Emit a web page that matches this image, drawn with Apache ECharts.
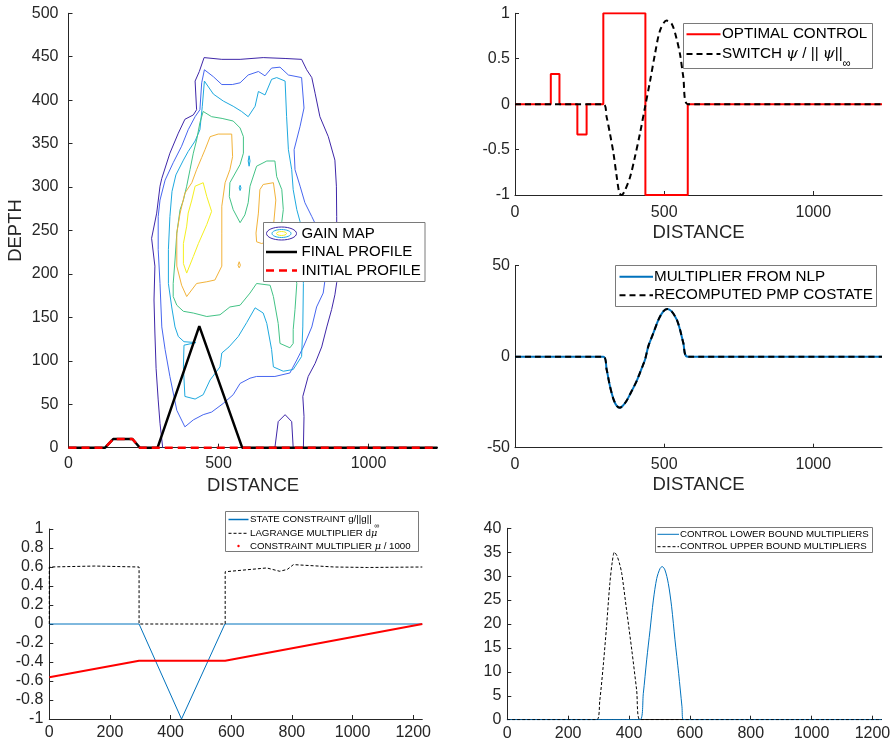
<!DOCTYPE html>
<html>
<head>
<meta charset="utf-8">
<script src="https://cdn.jsdelivr.net/npm/echarts@6/dist/echarts.min.js"></script>
<style>
    html, body { margin: 0; padding: 0; background: #fff; }
    #chart { width: 895px; height: 745px; }
</style>
</head>
<body>
<div id="chart"></div>
<script>
// ---------- data ----------
var topTicks = [0, 500, 1000];
var bottomTicks = [0, 200, 400, 600, 800, 1000, 1200];

// gain map contour lines (distance, depth), outer level first
var gainLevel1 = [[314,0],[305,28],[299,55],[292,91],[288,132],[285,170],[288,209],[277,241],[294,270],[305,301],[311,310],[338,339],[366,362],[388,378],[416,383],[427,389],[422,422],[436,433],[452,449],[511,447],[572,447],[649,449],[722,448],[777,447],[794,435],[811,426],[822,408],[838,381],[866,358],[888,331],[893,301],[894,266],[894,228],[894,190],[888,176],[877,159],[861,139],[844,116],[822,97],[799,82],[781,59],[785,36],[783,0]];
var gainLevel1b = [[688,0],[699,30],[722,38],[744,30],[749,0]];
var gainLevel2 = [[453,435],[483,427],[511,418],[546,418],[572,420],[599,429],[633,433],[655,428],[677,437],[705,438],[733,429],[777,426],[785,391],[772,370],[752,343],[755,320],[772,301],[788,282],[811,266],[832,251],[848,222],[855,193],[849,178],[827,162],[811,139],[783,116],[761,101],[738,86],[688,82],[627,82],[605,80],[572,74],[549,61],[516,51],[477,41],[449,38],[416,32],[388,24],[361,43],[338,82],[322,113],[311,139],[305,189],[299,228],[299,266],[305,285],[322,308],[349,328],[377,347],[399,366],[422,381],[438,389],[444,420],[453,435]];
var gainLevel3 = [[453,422],[483,407],[516,399],[549,393],[577,387],[599,381],[622,393],[633,410],[655,406],[677,424],[694,426],[722,422],[727,381],[733,343],[744,320],[749,297],[761,274],[772,260],[778,228],[783,189],[781,139],[777,105],[749,90],[716,88],[683,93],[677,113],[661,143],[649,155],[622,161],[594,144],[566,128],[535,116],[511,109],[505,93],[472,78],[449,61],[422,56],[388,59],[383,93],[385,118],[425,121],[385,122],[366,128],[355,139],[344,162],[333,189],[333,228],[338,266],[345,295],[358,314],[383,331],[399,341],[422,353],[438,366],[446,393],[453,422]];
var gainLevel3b = [[602,324],[605,330],[602,336],[599,330],[602,324]];
var gainLevel3c = [[572,296],[575,299],[572,302],[569,299],[572,296]];
var gainLevel4 = [[449,387],[477,381],[512,379],[549,376],[572,368],[583,358],[583,339],[572,326],[538,305],[536,289],[549,274],[572,259],[588,268],[599,282],[605,301],[627,324],[661,330],[688,330],[694,312],[711,297],[716,274],[711,260],[738,228],[761,189],[755,159],[749,136],[749,120],[738,115],[705,120],[699,143],[683,174],[672,187],[627,189],[605,178],[572,164],[538,162],[505,153],[461,151],[416,155],[383,157],[361,164],[349,174],[349,189],[355,216],[361,247],[372,274],[383,285],[394,301],[405,320],[416,339],[427,354],[438,374],[449,387]];
var gainLevel5 = [[472,358],[499,361],[544,361],[547,335],[538,320],[522,305],[511,278],[511,247],[511,209],[488,193],[461,191],[427,189],[394,174],[377,187],[361,209],[361,247],[372,270],[388,293],[411,305],[427,320],[444,334],[455,343],[472,358]];
var gainLevel5b = [[649,303],[683,305],[691,285],[685,262],[677,239],[644,235],[627,237],[625,247],[633,270],[638,297],[649,303]];
var gainLevel5c = [[569,207],[573,210],[569,214],[565,210],[569,207]];
var gainLevel6 = [[422,301],[449,305],[461,289],[477,272],[461,257],[433,235],[416,220],[394,201],[383,212],[383,235],[394,255],[399,270],[411,285],[422,301]];

var profileX = [0, 122, 149, 213, 238, 297, 436, 579, 1230];
var finalProfile = [0, 0, 10, 10, 0, 0, 140, 0, 0];
var initialX = [0, 122, 149, 213, 238, 1230];
var initialProfile = [0, 0, 10, 10, 0, 0];

var controlX = [0, 120, 149, 209, 240, 296, 437, 579, 1230];
var optimalControl = [0, 0.333, 0, -0.333, 0, 1, -1, 0, 0];
var switchX = [0, 296, 307, 318, 330, 341, 350, 358, 369, 386, 402, 419, 436, 453, 469, 486, 508, 525, 540, 553, 564, 579, 1230];
var switchFn = [0, 0, -0.14, -0.32, -0.54, -0.80, -0.98, -1.0, -0.945, -0.80, -0.58, -0.32, -0.03, 0.26, 0.55, 0.81, 0.92, 0.886, 0.74, 0.55, 0.30, 0, 0];

var costateX = [0, 296, 307, 318, 330, 341, 352, 363, 374, 386, 397, 408, 419, 428, 436, 447, 464, 481, 497, 510, 525, 542, 553, 564, 579, 1230];
var nlpMultiplier = [0, 0, -6.9, -16, -23.3, -27, -28, -26.6, -24.2, -20.5, -17, -13.3, -8.7, -5, -1.5, 5.8, 13.1, 20.4, 24.9, 26.2, 24.9, 20.4, 14.9, 7.6, 0, 0];
var pmpCostate = [0, 0, -6.9, -16, -23.3, -27, -28, -26.6, -24.2, -20.5, -17, -13.3, -8.7, -5, -1.5, 5.8, 13.1, 20.4, 24.9, 26.2, 24.9, 20.4, 14.9, 7.6, 0, 0];

var stateX = [0, 296, 436, 579, 1230];
var stateConstraint = [0, 0, -1, 0, 0];
var lagrangeX = [0, 0, 150, 296, 296, 580, 580, 717, 760, 785, 805, 860, 940, 1050, 1230];
var lagrangeMult = [0, 0.6, 0.61, 0.6, 0, 0, 0.55, 0.59, 0.555, 0.575, 0.625, 0.615, 0.6, 0.595, 0.6];
var muX = [0, 296, 580, 1230];
var constraintMult = [-0.56, -0.386, -0.386, 0];

var lowerX = [0, 436, 447, 458, 469, 480, 491, 502, 509, 518, 529, 540, 551, 563, 574, 578, 1230];
var lowerMult = [0, 0, 5.5, 12.5, 18.7, 25, 29.5, 31.6, 32, 31.3, 28.5, 23.6, 16.7, 9.7, 2.7, 0, 0];
var upperX = [0, 294, 304, 315, 326, 337, 345, 352, 360, 368, 376, 392, 409, 425, 436, 1230];
var upperMult = [0, 0, 4.1, 11.1, 19.4, 28.5, 33, 35, 34.3, 32.8, 30.6, 22.9, 14.6, 6.2, 0, 0];

// ---------- styling ----------
var FONT = '"Liberation Sans", Arial, Helvetica, sans-serif';
var AXIS_COLOR = '#262626';
var MBLUE = '#0072BD';
var LEVEL_COLORS = ['#3E26A8', '#4766F0', '#1EA9DF', '#43C386', '#F2B33A', '#F5F020'];

function zip (xs, ys) {
    var out = [];
    for (var i = 0; i < xs.length; i++) {
        out.push([xs[i], ys[i]]);
    }
    return out;
}

function plainNumber (v) {
    return String(Math.round(v * 1000) / 1000);
}

function lineSeries (gi, data, color, width, dash, extra) {
    var s = {
        type: 'line',
        xAxisIndex: gi,
        yAxisIndex: gi,
        data: data,
        symbol: 'none',
        silent: true,
        lineStyle: { color: color, width: width, type: dash || 'solid' }
    };
    for (var k in extra) s[k] = extra[k];
    return s;
}

function makeXAxis (gi, ticks, margin, name) {
    return {
        type: 'value', gridIndex: gi, min: 0, max: 1230,
        axisLine: { show: true, onZero: false, lineStyle: { color: AXIS_COLOR, width: 1 } },
        axisTick: { show: true, inside: true, length: 4, customValues: ticks, lineStyle: { color: AXIS_COLOR } },
        axisLabel: { customValues: ticks, formatter: plainNumber, color: AXIS_COLOR, fontSize: 16, fontFamily: FONT, margin: margin },
        splitLine: { show: false },
        name: name || '',
        nameLocation: 'middle',
        nameGap: 28,
        nameTextStyle: { color: AXIS_COLOR, fontSize: 18.5, fontFamily: FONT }
    };
}

function makeYAxis (gi, min, max, interval, margin, name) {
    return {
        type: 'value', gridIndex: gi, min: min, max: max, interval: interval,
        axisLine: { show: true, onZero: false, lineStyle: { color: AXIS_COLOR, width: 1 } },
        axisTick: { show: true, inside: true, length: 4, lineStyle: { color: AXIS_COLOR } },
        axisLabel: { formatter: plainNumber, color: AXIS_COLOR, fontSize: 16, fontFamily: FONT, margin: margin },
        splitLine: { show: false },
        name: name || '',
        nameLocation: 'middle',
        nameGap: 43,
        nameTextStyle: { color: AXIS_COLOR, fontSize: 18.5, fontFamily: FONT }
    };
}

/**
 * legend box drawn with graphic elements
 */
function legendBox (box, icon, textX, fs, rows) {
    var els = [{
        type: 'rect', z: 100,
        shape: { x: box[0], y: box[1], width: box[2], height: box[3] },
        style: { fill: '#fff', stroke: '#7a7a7a', lineWidth: 1 }
    }];
    for (var i = 0; i < rows.length; i++) {
        var r = rows[i];
        var mid = (icon[0] + icon[1]) / 2;
        if (r.kind === 'gain') {
            els.push({ type: 'ellipse', z: 101, shape: { cx: mid, cy: r.y, rx: 15, ry: 6.5 }, style: { fill: 'none', stroke: LEVEL_COLORS[0], lineWidth: 1 } });
            els.push({ type: 'ellipse', z: 101, shape: { cx: mid, cy: r.y, rx: 9.5, ry: 4 }, style: { fill: 'none', stroke: LEVEL_COLORS[2], lineWidth: 1 } });
            els.push({ type: 'ellipse', z: 101, shape: { cx: mid, cy: r.y, rx: 5, ry: 2 }, style: { fill: 'none', stroke: LEVEL_COLORS[5], lineWidth: 1 } });
        } else if (r.kind === 'dot') {
            els.push({ type: 'circle', z: 101, shape: { cx: mid, cy: r.y, r: 1.2 }, style: { fill: r.color } });
        } else {
            els.push({
                type: 'line', z: 101,
                shape: { x1: icon[0], y1: r.y, x2: icon[1], y2: r.y },
                style: { stroke: r.color, lineWidth: r.width, lineDash: r.dash || null }
            });
        }
        els.push({
            type: 'text', z: 101, x: textX, y: r.y,
            style: {
                text: r.text, fill: '#000', fontSize: fs, fontFamily: FONT,
                align: 'left', verticalAlign: 'middle',
                rich: {
                    n: { fontSize: fs, fontFamily: FONT, fill: '#000', color: '#000', lineHeight: fs * 2 },
                    i: { fontSize: fs, fontFamily: 'DejaVu Serif, serif', fontStyle: 'italic', fill: '#000', color: '#000', lineHeight: fs * 2 },
                    s: { fontSize: fs * 0.75, fontFamily: FONT, fill: '#000', color: '#000', lineHeight: fs * 0.8, verticalAlign: 'bottom' }
                }
            }
        });
    }
    return els;
}

var graphics = []
    .concat(legendBox([263.5, 222.5, 161.5, 59], [266, 297], 301.5, 15, [
        { y: 233.5, kind: 'gain', text: 'GAIN MAP' },
        { y: 252, color: '#000', width: 2.5, text: 'FINAL PROFILE' },
        { y: 270.5, color: '#ff0000', width: 2.5, dash: [8, 5], text: 'INITIAL PROFILE' }
    ]))
    .concat(legendBox([683.5, 23.5, 189, 45], [686.5, 720.5], 722, 15.2, [
        { y: 34.3, color: '#ff0000', width: 2, text: 'OPTIMAL CONTROL' },
        { y: 54, color: '#000', width: 2, dash: [6, 4], text: '{n|SWITCH }{i|ψ}{n| / || }{i|ψ}{n|||}{s|∞}' }
    ]))
    .concat(legendBox([615.5, 265.5, 261, 41], [619.5, 653], 654, 15.2, [
        { y: 276.7, color: MBLUE, width: 2, text: 'MULTIPLIER FROM NLP' },
        { y: 295.3, color: '#000', width: 2, dash: [6, 4], text: 'RECOMPUTED PMP COSTATE' }
    ]))
    .concat(legendBox([225.5, 511.5, 193, 40], [228.5, 248.5], 250, 9.7, [
        { y: 519.5, color: MBLUE, width: 1.5, text: '{n|STATE CONSTRAINT g/||g|| }{s|∞}' },
        { y: 533.3, color: '#000', width: 1, dash: [3, 2], text: '{n|LAGRANGE MULTIPLIER d}{i|μ}' },
        { y: 546, kind: 'dot', color: '#ff0000', text: '{n|CONSTRAINT MULTIPLIER }{i|μ}{n| / 1000}' }
    ]))
    .concat(legendBox([655.5, 527.5, 217, 25], [657.5, 679], 680, 9.7, [
        { y: 534.3, color: MBLUE, width: 1, text: 'CONTROL LOWER BOUND MULTIPLIERS' },
        { y: 546.7, color: '#000', width: 1, dash: [3, 2], text: 'CONTROL UPPER BOUND MULTIPLIERS' }
    ]));

var series = [
    // gain map
    lineSeries(0, gainLevel1, LEVEL_COLORS[0], 1),
    lineSeries(0, gainLevel1b, LEVEL_COLORS[0], 1),
    lineSeries(0, gainLevel2, LEVEL_COLORS[1], 1),
    lineSeries(0, gainLevel3, LEVEL_COLORS[2], 1),
    lineSeries(0, gainLevel3b, LEVEL_COLORS[2], 1),
    lineSeries(0, gainLevel3c, LEVEL_COLORS[2], 1),
    lineSeries(0, gainLevel4, LEVEL_COLORS[3], 1),
    lineSeries(0, gainLevel5, LEVEL_COLORS[4], 1),
    lineSeries(0, gainLevel5b, LEVEL_COLORS[4], 1),
    lineSeries(0, gainLevel5c, LEVEL_COLORS[4], 1),
    lineSeries(0, gainLevel6, LEVEL_COLORS[5], 1),
    lineSeries(0, zip(profileX, finalProfile), '#000', 2.5),
    lineSeries(0, zip(initialX, initialProfile), '#ff0000', 2.5, [8, 5]),
    // control & switch
    lineSeries(1, zip(controlX, optimalControl), '#ff0000', 2, null, { step: 'end' }),
    lineSeries(1, zip(switchX, switchFn), '#000', 2, [6, 4], { smooth: 0.3 }),
    // costate
    lineSeries(2, zip(costateX, nlpMultiplier), MBLUE, 2, null, { smooth: 0.3 }),
    lineSeries(2, zip(costateX, pmpCostate), '#000', 2, [6, 4], { smooth: 0.3 }),
    // state constraint
    lineSeries(3, zip(stateX, stateConstraint), MBLUE, 1),
    lineSeries(3, zip(lagrangeX, lagrangeMult), '#000', 1, [3, 2]),
    lineSeries(3, zip(muX, constraintMult), '#ff0000', 2),
    // control bound multipliers
    lineSeries(4, zip(lowerX, lowerMult), MBLUE, 1, null, { smooth: 0.3 }),
    lineSeries(4, zip(upperX, upperMult), '#000', 1, [3, 2], { smooth: 0.3 })
];

var option = {
    animation: false,
    backgroundColor: '#fff',
    grid: [
        { left: 68.5, top: 13.3, width: 369, height: 434.4, outerBoundsMode: 'none' },
        { left: 515, top: 13.3, width: 367, height: 181.7, outerBoundsMode: 'none' },
        { left: 515, top: 265.7, width: 367, height: 182, outerBoundsMode: 'none' },
        { left: 49.3, top: 529, width: 373, height: 190, outerBoundsMode: 'none' },
        { left: 507.3, top: 528.3, width: 374.3, height: 191.4, outerBoundsMode: 'none' }
    ],
    xAxis: [
        makeXAxis(0, topTicks, 8, 'DISTANCE'),
        makeXAxis(1, topTicks, 10, 'DISTANCE'),
        makeXAxis(2, topTicks, 9, 'DISTANCE'),
        makeXAxis(3, bottomTicks, 6),
        makeXAxis(4, bottomTicks, 6)
    ],
    yAxis: [
        makeYAxis(0, 0, 500, 50, 10, 'DEPTH'),
        makeYAxis(1, -1, 1, 0.5, 5),
        makeYAxis(2, -50, 50, 50, 5),
        makeYAxis(3, -1, 1, 0.2, 6),
        makeYAxis(4, 0, 40, 5, 6)
    ],
    series: series,
    graphic: { elements: graphics }
};

var chart = echarts.init(document.getElementById('chart'), null, { renderer: 'canvas' });
chart.setOption(option);
</script>
</body>
</html>
